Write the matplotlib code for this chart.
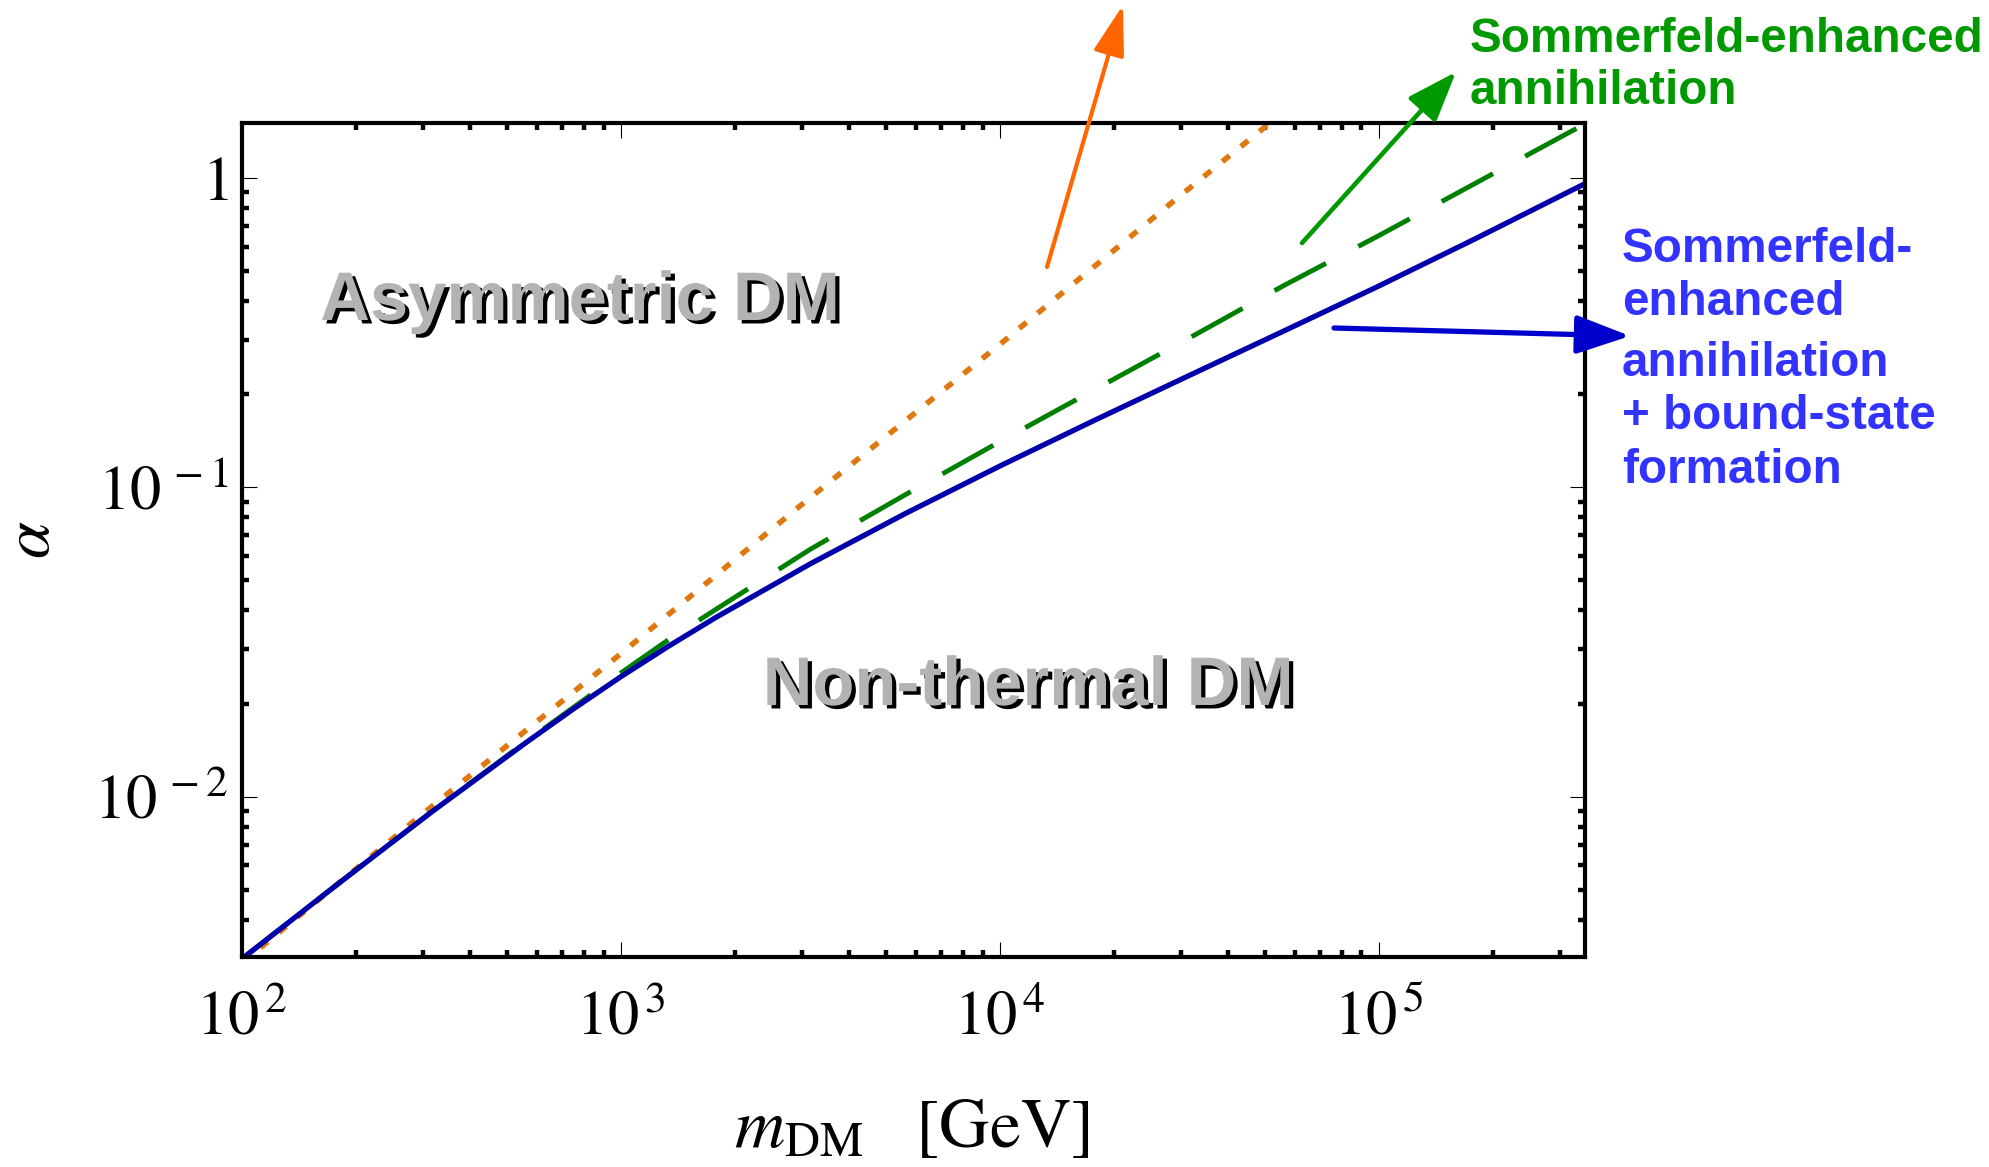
import matplotlib
matplotlib.use("Agg")
import matplotlib.pyplot as plt
import matplotlib.patheffects as pe
from matplotlib.patches import FancyArrowPatch, ArrowStyle
from matplotlib.ticker import FixedLocator, LogLocator, NullFormatter

plt.rcParams['mathtext.fontset'] = 'stix'
plt.rcParams['font.family'] = 'Liberation Serif'

# DM mass [GeV]
m_dm = [100, 178, 316, 562, 750, 1000, 1334, 1778, 3162, 5623, 1e4, 1.778e4, 3.162e4,
        5.623e4, 1e5, 1.778e5, 3.162e5, 3.5e5]
# Sommerfeld-enhanced annihilation + bound-state formation (solid blue)
alpha_bsf = [0.00299, 0.00519, 0.00891, 0.01496, 0.01923, 0.02443, 0.03062, 0.03793,
             0.05662, 0.08222, 0.1172, 0.1648, 0.2301, 0.3206, 0.4477, 0.6324,
             0.9016, 0.9594]
# Sommerfeld-enhanced annihilation only (dashed green)
alpha_se = [0.00299, 0.00519, 0.00891, 0.01507, 0.01945, 0.02512, 0.03214, 0.04027,
            0.0631, 0.0946, 0.1406, 0.2070, 0.3041, 0.4498, 0.6516, 0.9550,
            1.400, 1.496]
# no Sommerfeld effect (dotted orange)
m_free = [100, 300, 1e3, 3e3, 1e4, 3e4, 6e4]
alpha_free = [0.0029, 0.0088, 0.029, 0.088, 0.29, 0.88, 1.75]

x_ticks = [1e2, 1e3, 1e4, 1e5]
x_ticklabels = [r'$10^{\,2}$', r'$10^{\,3}$', r'$10^{\,4}$', r'$10^{\,5}$']
y_ticks = [1e-2, 1e-1, 1]
y_ticklabels = [r'$10^{\,-2}$', r'$10^{\,-1}$', r'$1\,$']

W, H = 1990, 1167


def fx(x, y):
    # pixel position -> figure fraction
    return (x / W, 1 - y / H)


fig = plt.figure(figsize=(W / 100, H / 100), dpi=100)
ax = fig.add_axes([242 / W, 1 - 957 / H, (1585 - 242) / W, (957 - 123) / H])
ax.set_xscale('log')
ax.set_yscale('log')

ax.plot(m_free, alpha_free, color='#e07810', lw=4.0, dashes=(1.7, 2.6),
        dash_capstyle='butt')
ax.plot(m_dm, alpha_se, color='#008000', lw=3.5, dashes=(12, 7.5),
        dash_capstyle='butt')
ax.plot(m_dm, alpha_bsf, color='#0000aa', lw=3.8)

ax.set_xlim(100, 3.5e5)
ax.set_ylim(3.03e-3, 1.507)

ax.xaxis.set_major_locator(FixedLocator(x_ticks))
ax.set_xticklabels(x_ticklabels)
ax.yaxis.set_major_locator(FixedLocator(y_ticks))
ax.set_yticklabels(y_ticklabels)
for axis in (ax.xaxis, ax.yaxis):
    axis.set_minor_locator(LogLocator(base=10, subs=range(2, 10), numticks=30))
    axis.set_minor_formatter(NullFormatter())

ax.tick_params(which='both', direction='in', top=True, right=True, color='black')
ax.tick_params(which='major', length=11, width=0.8, labelsize=45)
ax.tick_params(axis='x', which='major', pad=24)
ax.tick_params(axis='y', which='major', pad=10)
ax.tick_params(which='minor', length=5, width=3.2)
for s in ax.spines.values():
    s.set_linewidth(3)

fig.text(*fx(33, 540), r'$\alpha$', fontsize=48, rotation=90,
         ha='center', va='center')
fig.text(*fx(912, 1130), r'$m_{\rm DM}\quad[{\rm GeV}]$', fontsize=50,
         ha='center', va='center')

# region labels
shadow = [pe.SimplePatchShadow(offset=(3, -2.5), shadow_rgbFace='black', alpha=1.0),
          pe.Normal()]
for label, x, y in [('Asymmetric DM', 580, 320), ('Non-thermal DM', 1028, 705)]:
    fig.text(*fx(x, y), label, fontsize=49.5, fontweight='bold', color='#b3b3b3',
             family='Liberation Sans', ha='center', va='baseline', path_effects=shadow)

# curve labels
green_lines = ['Sommerfeld-enhanced', 'annihilation']
for line, y in zip(green_lines, [52, 104]):
    fig.text(*fx(1470, y), line, fontsize=34.3, fontweight='bold', color='#009900',
             family='Liberation Sans', ha='left', va='baseline')
blue_lines = ['Sommerfeld-', 'enhanced', 'annihilation', '+ bound-state', 'formation']
for line, y in zip(blue_lines, [262, 315, 376, 429, 483]):
    fig.text(*fx(1622, y), line, fontsize=34.3, fontweight='bold', color='#3333ff',
             family='Liberation Sans', ha='left', va='baseline')

# arrows
arrows = [
    ((1047, 267), (1123, 5), '#ff6600', 3.0, 0.31, 31),
    ((1302, 243), (1456, 72), '#009900', 3.3, 0.37, 31),
    ((1334, 328), (1630, 336), '#0000cc', 3.8, 0.36, 33),
]
for start, end, col, lw, hw, ms in arrows:
    arr = FancyArrowPatch(fx(*start), fx(*end), transform=fig.transFigure,
                          arrowstyle=ArrowStyle('-|>', head_length=1.0, head_width=hw),
                          mutation_scale=ms, color=col, lw=lw,
                          shrinkA=0, shrinkB=0, clip_on=False)
    fig.add_artist(arr)

fig.savefig('out.png', dpi=100)
